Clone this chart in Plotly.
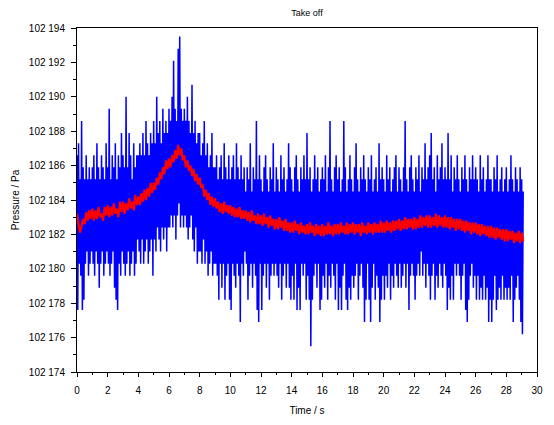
import plotly.graph_objects as go

base = 102000
t_step_blue = 0.05
t_step_red = 0.1

# raw pressure (Pa above 102 000), one row per second
p_raw = [
    186.6, 177.6, 187.3, 180.3, 185.2, 179.6, 188.6, 177.6, 185.9, 178.2, 185.2, 180.3, 186.6, 181.0, 185.2, 179.6, 185.9, 180.3, 185.2, 181.0,
    185.9, 180.3, 186.6, 179.6, 185.2, 181.0, 187.3, 180.3, 185.9, 178.9, 185.2, 180.3, 186.6, 181.0, 185.9, 179.6, 185.2, 180.3, 187.3, 181.0,
    185.9, 180.3, 189.3, 179.6, 185.2, 180.3, 186.6, 181.0, 185.9, 178.9, 187.3, 178.2, 185.2, 177.6, 186.6, 180.3, 185.9, 179.6, 187.9, 181.0,
    186.6, 180.3, 185.9, 179.6, 190.0, 180.3, 185.9, 181.0, 187.9, 179.6, 186.6, 180.3, 185.2, 181.0, 187.3, 179.6, 185.9, 180.3, 186.6, 181.7,
    186.6, 181.0, 187.3, 180.3, 186.6, 181.7, 187.9, 180.3, 186.6, 181.0, 188.6, 181.7, 187.3, 180.3, 186.6, 181.0, 187.9, 181.7, 187.3, 179.6,
    188.6, 181.7, 187.3, 181.0, 190.0, 182.4, 187.9, 181.7, 188.6, 181.0, 187.3, 182.4, 189.3, 181.7, 187.9, 182.4, 188.6, 181.0, 187.9, 182.4,
    189.3, 182.4, 188.6, 183.1, 190.0, 182.4, 192.1, 183.1, 189.3, 181.7, 188.6, 183.1, 192.8, 183.8, 193.5, 182.4, 189.3, 183.1, 188.6, 182.4,
    189.3, 183.1, 188.6, 182.4, 190.0, 181.7, 188.6, 182.4, 187.9, 183.1, 190.7, 181.7, 187.9, 181.0, 188.6, 182.4, 187.3, 180.3, 187.9, 181.0,
    187.9, 181.0, 186.6, 180.3, 187.3, 181.7, 188.6, 180.3, 186.6, 181.0, 187.3, 179.6, 185.9, 180.3, 186.6, 181.0, 187.9, 179.6, 185.9, 180.3,
    185.9, 180.3, 186.6, 179.6, 185.2, 178.2, 185.9, 180.3, 186.6, 178.9, 185.2, 180.3, 187.3, 178.2, 185.9, 179.6, 185.2, 180.3, 186.6, 178.2,
    185.2, 177.6, 185.9, 180.3, 186.6, 179.6, 185.2, 178.9, 187.3, 180.3, 185.9, 179.6, 185.2, 176.9, 186.6, 180.3, 185.2, 179.6, 185.9, 181.0,
    184.5, 180.3, 185.9, 178.2, 185.2, 179.6, 187.3, 180.3, 184.5, 178.9, 185.9, 180.3, 185.2, 179.6, 188.6, 177.6, 185.2, 176.9, 186.6, 180.3,
    185.2, 177.6, 184.5, 179.6, 185.9, 180.3, 186.6, 178.9, 185.2, 180.3, 184.5, 178.2, 185.9, 179.6, 185.2, 180.3, 187.3, 179.6, 184.5, 180.3,
    185.9, 179.6, 185.2, 178.9, 184.5, 180.3, 186.6, 178.2, 185.2, 179.6, 185.9, 180.3, 184.5, 178.9, 185.2, 180.3, 187.3, 178.9, 185.9, 178.2,
    185.2, 179.6, 184.5, 178.2, 185.9, 180.3, 186.6, 177.6, 185.2, 178.9, 184.5, 177.6, 185.9, 180.3, 185.2, 179.6, 186.6, 180.3, 185.2, 178.2,
    187.9, 179.6, 185.2, 178.2, 185.9, 175.5, 184.5, 178.2, 185.2, 179.6, 186.6, 180.3, 185.2, 178.9, 185.9, 180.3, 184.5, 177.6, 185.2, 178.2,
    185.9, 179.6, 185.2, 178.9, 186.6, 180.3, 184.5, 178.2, 185.9, 179.6, 188.6, 178.9, 185.2, 180.3, 184.5, 179.6, 185.9, 178.2, 186.6, 180.3,
    185.2, 177.6, 185.9, 178.9, 184.5, 177.6, 185.2, 179.6, 188.6, 180.3, 185.9, 178.2, 184.5, 177.6, 185.2, 178.9, 186.6, 178.2, 185.2, 179.6,
    184.5, 178.9, 185.9, 179.6, 187.3, 180.3, 185.2, 178.2, 184.5, 179.6, 185.9, 180.3, 185.2, 178.9, 186.6, 176.9, 185.2, 178.2, 184.5, 180.3,
    185.9, 178.2, 185.2, 176.9, 186.6, 178.9, 184.5, 180.3, 185.2, 178.2, 185.9, 179.6, 184.5, 178.9, 187.3, 176.9, 185.2, 178.2, 185.9, 179.6,
    185.2, 178.2, 184.5, 179.6, 186.6, 178.9, 185.2, 180.3, 185.9, 178.2, 184.5, 179.6, 185.2, 178.9, 185.9, 180.3, 186.6, 179.6, 184.5, 178.9,
    185.9, 180.3, 185.2, 178.9, 184.5, 179.6, 185.9, 180.3, 188.6, 178.9, 185.2, 180.3, 184.5, 177.6, 185.9, 179.6, 186.6, 180.3, 185.2, 179.6,
    184.5, 178.2, 185.9, 179.6, 185.2, 180.3, 186.6, 179.6, 184.5, 181.0, 185.9, 179.6, 185.2, 180.3, 187.3, 178.9, 185.2, 180.3, 185.9, 179.6,
    186.6, 178.2, 187.9, 179.6, 185.2, 180.3, 185.9, 178.2, 184.5, 179.6, 186.6, 178.9, 185.2, 180.3, 185.9, 179.6, 187.3, 178.9, 185.2, 180.3,
    185.9, 179.6, 185.2, 177.6, 187.9, 178.9, 185.2, 178.2, 186.6, 179.6, 184.5, 178.2, 185.9, 180.3, 185.2, 179.6, 186.6, 180.3, 185.2, 179.6,
    184.5, 178.2, 185.9, 179.6, 185.2, 180.3, 186.6, 177.6, 185.2, 176.9, 184.5, 178.2, 185.9, 179.6, 185.2, 180.3, 186.6, 178.9, 185.2, 179.6,
    185.9, 178.2, 185.2, 179.6, 184.5, 178.2, 186.6, 178.9, 185.2, 178.2, 185.9, 179.6, 184.5, 178.2, 185.2, 178.9, 186.6, 176.9, 185.2, 178.2,
    185.2, 176.9, 184.5, 178.2, 185.9, 179.6, 185.2, 177.6, 186.6, 178.2, 184.5, 178.9, 185.2, 178.2, 185.9, 179.6, 184.5, 178.2, 185.2, 178.9,
    185.9, 178.2, 184.5, 178.9, 185.2, 178.2, 186.6, 179.6, 185.2, 176.9, 184.5, 178.2, 185.9, 178.9, 185.2, 179.6, 184.5, 178.2, 185.9, 176.9,
    185.2, 176.2, 184.5,
]

# filtered pressure (Pa above 102 000)
p_filt = [
    183.2, 182.6, 182.1, 182.5, 182.9, 182.6, 183.3, 182.8, 183.4, 182.9,
    183.5, 182.8, 183.4, 182.9, 183.6, 183.0, 183.2, 182.8, 183.6, 183.1,
    183.7, 183.0, 183.6, 183.1, 183.8, 183.2, 183.5, 183.0, 183.9, 183.3,
    183.9, 183.2, 183.8, 183.4, 184.1, 183.5, 183.9, 183.4, 184.3, 183.7,
    184.2, 183.7, 184.4, 183.9, 184.6, 184.0, 184.7, 184.2, 185.0, 184.4,
    185.0, 184.6, 185.3, 184.9, 185.6, 185.2, 185.9, 185.5, 186.3, 185.8,
    186.4, 185.9, 186.6, 186.2, 186.9, 186.4, 187.2, 186.6, 187.0, 186.3,
    186.6, 185.9, 186.3, 185.7, 186.0, 185.4, 185.8, 185.1, 185.5, 184.9,
    185.3, 184.7, 184.9, 184.2, 184.6, 184.0, 184.4, 183.7, 184.2, 183.6,
    184.1, 183.5, 183.9, 183.3, 183.8, 183.2, 183.9, 183.3, 183.7, 183.2,
    183.7, 183.1, 183.6, 183.0, 183.5, 183.0, 183.6, 182.9, 183.4, 182.9,
    183.4, 182.8, 183.3, 182.7, 183.4, 182.8, 183.1, 182.6, 183.2, 182.6,
    183.1, 182.5, 183.2, 182.6, 183.0, 182.4, 183.1, 182.5, 182.9, 182.3,
    182.9, 182.3, 183.0, 182.4, 182.8, 182.2, 182.9, 182.2, 182.7, 182.1,
    182.7, 182.1, 182.8, 182.2, 182.6, 182.0, 182.7, 182.1, 182.5, 182.0,
    182.6, 182.0, 182.7, 182.1, 182.5, 181.9, 182.6, 182.0, 182.5, 181.9,
    182.6, 181.9, 182.5, 182.0, 182.7, 182.0, 182.5, 181.9, 182.6, 182.0,
    182.6, 182.0, 182.7, 182.1, 182.5, 182.0, 182.7, 182.0, 182.6, 182.1,
    182.7, 182.0, 182.6, 182.1, 182.6, 181.9, 182.7, 182.1, 182.5, 182.0,
    182.7, 182.1, 182.6, 182.0, 182.7, 182.1, 182.6, 182.1, 182.8, 182.1,
    182.7, 182.1, 182.8, 182.2, 182.7, 182.1, 182.8, 182.2, 182.8, 182.3,
    182.9, 182.2, 182.8, 182.3, 183.0, 182.3, 182.9, 182.4, 182.9, 182.3,
    183.0, 182.3, 182.9, 182.4, 183.1, 182.4, 183.0, 182.5, 183.1, 182.4,
    183.1, 182.4, 183.0, 182.5, 183.2, 182.4, 183.1, 182.5, 183.0, 182.4,
    183.1, 182.4, 183.0, 182.3, 183.0, 182.4, 182.9, 182.2, 182.9, 182.3,
    182.9, 182.2, 182.8, 182.1, 182.8, 182.2, 182.7, 182.0, 182.7, 182.1,
    182.7, 182.0, 182.6, 181.9, 182.6, 182.0, 182.5, 181.9, 182.5, 181.8,
    182.5, 181.8, 182.4, 181.7, 182.4, 181.8, 182.3, 181.7, 182.3, 181.6,
    182.3, 181.6, 182.2, 181.7, 182.2, 181.5, 182.1, 181.6, 182.2, 181.5,
    182.1, 181.6,
]

fig = go.Figure()
fig.add_trace(go.Scatter(x0=0, dx=t_step_blue, y=[base + v for v in p_raw], mode='lines',
                         line=dict(color='#0000ff', width=1.5, simplify=False), name='raw'))
fig.add_trace(go.Scatter(x0=0, dx=t_step_red, y=[base + v for v in p_filt], mode='lines',
                         line=dict(color='#ff0000', width=2.2, simplify=False), name='filtered'))

axis_font = dict(family='Liberation Sans, Arial, sans-serif', size=10, color='black')

# the page body adds an 8px margin, so the figure is 8px smaller than the window
fig.update_layout(
    width=546, height=417,
    margin=dict(l=69, r=17, t=20, b=53),
    paper_bgcolor='white', plot_bgcolor='white',
    showlegend=False,
    separators='. ',
    font=axis_font,
    title=dict(text='Take off', xref='paper', x=0.5, xanchor='center', y=0.997, yanchor='top',
               font=dict(family='Liberation Sans, Arial, sans-serif', size=9, color='black')),
)
fig.update_xaxes(
    range=[0, 30], dtick=2, tick0=0, showgrid=False, zeroline=False,
    showline=True, linecolor='black', linewidth=1, mirror=True,
    ticks='outside', ticklen=4, tickcolor='black', ticklabelstandoff=5,
    minor=dict(dtick=1, ticks='outside', ticklen=2, tickcolor='black'),
    tickfont=axis_font, automargin=False,
    title=dict(text='Time / s', standoff=11, font=axis_font),
)
fig.update_yaxes(
    range=[102174, 102194], dtick=2, tick0=102174, tickformat=',d',
    showgrid=False, zeroline=False,
    showline=True, linecolor='black', linewidth=1, mirror=True,
    ticks='outside', ticklen=5, tickcolor='black', ticklabelstandoff=4,
    minor=dict(dtick=1, ticks='outside', ticklen=3, tickcolor='black'),
    tickfont=axis_font, automargin=False,
    title=dict(text='Pressure / Pa', standoff=7, font=axis_font),
)

fig.write_html('out.html')
